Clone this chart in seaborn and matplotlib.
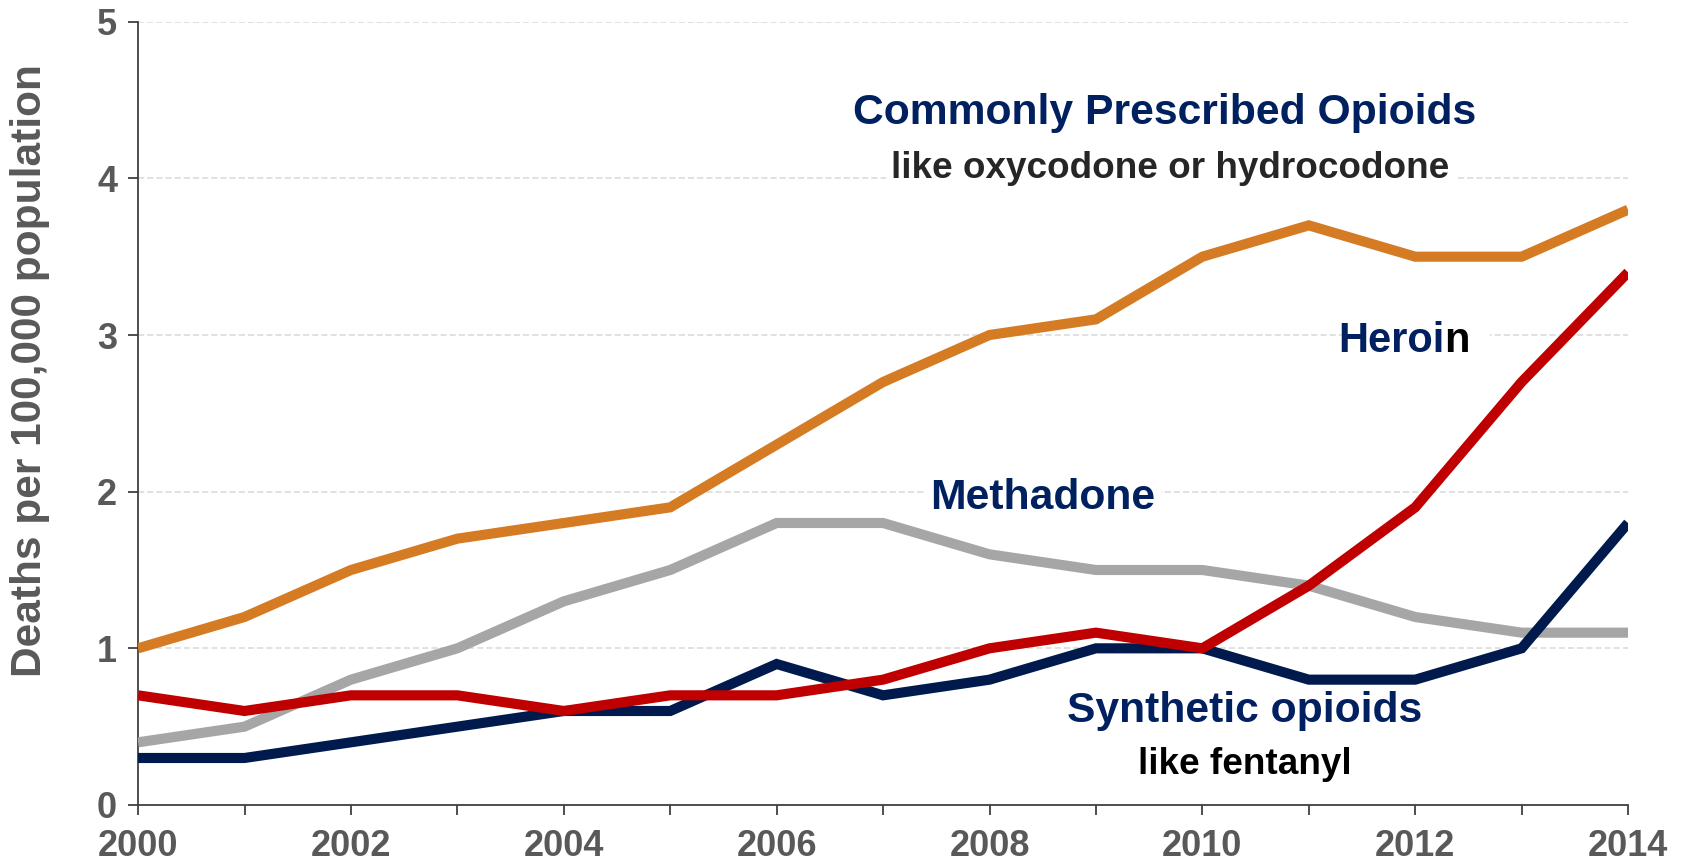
import numpy as np
import pandas as pd
import seaborn as sns
import matplotlib.pyplot as plt
from matplotlib.ticker import MultipleLocator, FuncFormatter

years = list(range(2000, 2015))
prescribed = [1.0, 1.2, 1.5, 1.7, 1.8, 1.9, 2.3, 2.7, 3.0, 3.1, 3.5, 3.7, 3.5, 3.5, 3.8]
methadone = [0.4, 0.5, 0.8, 1.0, 1.3, 1.5, 1.8, 1.8, 1.6, 1.5, 1.5, 1.4, 1.2, 1.1, 1.1]
heroin = [0.7, 0.6, 0.7, 0.7, 0.6, 0.7, 0.7, 0.8, 1.0, 1.1, 1.0, 1.4, 1.9, 2.7, 3.4]
synthetic = [0.3, 0.3, 0.4, 0.5, 0.6, 0.6, 0.9, 0.7, 0.8, 1.0, 1.0, 0.8, 0.8, 1.0, 1.8]

series = ["Methadone", "Prescribed", "Synthetic", "Heroin"]
colors = {"Prescribed": "#D57B23", "Methadone": "#A6A6A6",
          "Heroin": "#C00000", "Synthetic": "#001A4D"}

df = pd.DataFrame({
    "year": years * 4,
    "rate": methadone + prescribed + synthetic + heroin,
    "drug": sum([[s] * len(years) for s in series], []),
})

sns.set_theme(style="white")
plt.rcParams['font.family'] = ['Liberation Sans', 'DejaVu Sans']

fig = plt.figure(figsize=(16.88, 8.68), dpi=100)
ax = fig.add_axes([0.0818, 0.0726, 0.8827, 0.9024])

sns.lineplot(data=df, x="year", y="rate", hue="drug", hue_order=series,
             palette=colors, linewidth=7.3, legend=False, ax=ax, zorder=3)
for ln in ax.get_lines():
    ln.set_solid_joinstyle("miter")
    ln.set_solid_capstyle("butt")

ax.set_xlim(2000, 2014)
ax.set_ylim(0, 5)
ax.set_yticks([0, 1, 2, 3, 4, 5])
ax.xaxis.set_major_locator(MultipleLocator(1))
ax.xaxis.set_major_formatter(FuncFormatter(lambda v, p: str(int(v)) if int(v) % 2 == 0 else ""))

for y in [1, 2, 3, 4, 5]:
    ax.axhline(y, color="#D9D9D9", lw=1.1, ls=(0, (4, 2)), zorder=0.5)

for s in ["top", "right"]:
    ax.spines[s].set_visible(False)
for s in ["left", "bottom"]:
    ax.spines[s].set_color("#404040")
    ax.spines[s].set_linewidth(1.3)

ax.tick_params(axis="both", direction="out", length=7, width=1.3, color="#404040",
               left=True, bottom=True)
ax.tick_params(axis="x", pad=10, labelsize=26, labelcolor="#595959")
ax.tick_params(axis="y", pad=8, labelsize=26, labelcolor="#595959")
for lab in ax.get_xticklabels() + ax.get_yticklabels():
    lab.set_fontweight("bold")

ax.set_xlabel("")
ax.set_ylabel("Deaths per 100,000 population", fontsize=30.5, fontweight="bold",
              color="#595959")
ax.yaxis.set_label_coords(-0.059, 0.555)

navy = "#002060"
box = dict(facecolor="white", edgecolor="none", pad=4)
ax.text(2009.65, 4.42, "Commonly Prescribed Opioids", ha="center", va="center",
        fontsize=30.7, fontweight="bold", color=navy, bbox=box, zorder=2)
ax.text(2009.7, 4.06, "like oxycodone or hydrocodone", ha="center", va="center",
        fontsize=26.6, fontweight="bold", color="#262626", bbox=box, zorder=2)
ax.text(2008.5, 1.96, "Methadone", ha="center", va="center",
        fontsize=30.7, fontweight="bold", color=navy, bbox=box, zorder=2)
ax.text(2010.4, 0.6, "Synthetic opioids", ha="center", va="center",
        fontsize=30.7, fontweight="bold", color=navy, bbox=box, zorder=2)
ax.text(2010.4, 0.26, "like fentanyl", ha="center", va="center",
        fontsize=26.6, fontweight="bold", color="black", bbox=box, zorder=2)

# Heroin: last letter black like the original
hx = 2012.03
ax.text(hx, 2.96, "Heroin", ha="center", va="center", fontsize=30,
        fontweight="bold", color="white", alpha=0.0,
        bbox=dict(facecolor="white", edgecolor="none", pad=4), zorder=1)
ax.text(hx + 0.245, 2.96, "Heroi", ha="right", va="center", fontsize=30,
        fontweight="bold", color=navy, zorder=2)
ax.text(hx + 0.245, 2.96, "n", ha="left", va="center", fontsize=30,
        fontweight="bold", color="black", zorder=2)

plt.savefig("out.png", dpi=100)
